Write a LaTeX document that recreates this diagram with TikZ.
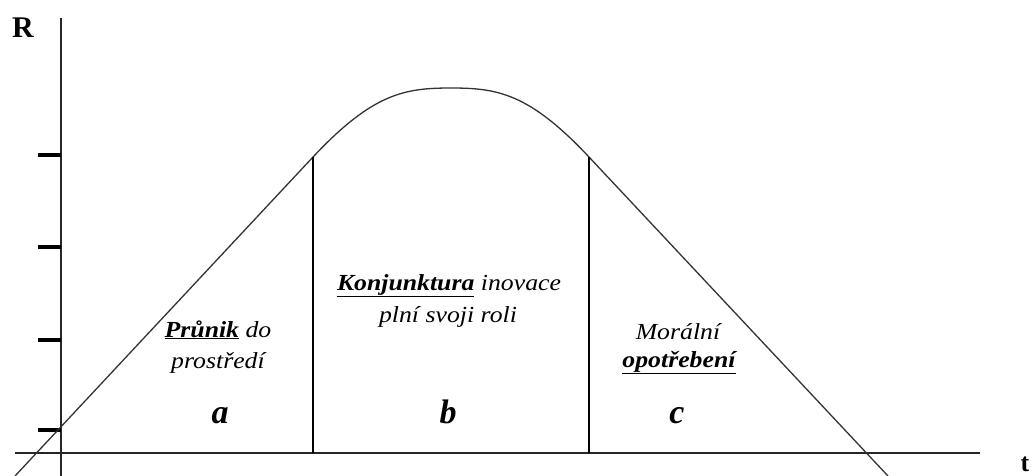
\documentclass[tikz,border=0pt]{standalone}
\usepackage{fontspec}
\setmainfont{Liberation Serif}
\newfontfamily\lblfont[FakeStretch=1.12]{Liberation Serif}
\begin{document}
\begin{tikzpicture}[x=1pt,y=-1pt,
  axis/.style={line width=2pt,draw=black!85},
  tickmark/.style={line width=3.5pt,draw=black},
  curveline/.style={line width=1.3pt,draw=black!80},
  divider/.style={line width=1.3pt,draw=black},
  lbl/.style={anchor=base,inner sep=0pt,font=\lblfont\itshape\fontsize{23}{27}\selectfont},
  letter/.style={anchor=base,inner sep=0pt,font=\bfseries\itshape\fontsize{34}{38}\selectfont},
  axlbl/.style={anchor=base,inner sep=0pt,font=\bfseries\fontsize{30}{34}\selectfont}]
\useasboundingbox (0,0) rectangle (1033,475);
% axes
\coordinate (ytop) at (61,18);
\coordinate (ybot) at (61,476);
\coordinate (xl) at (15,453);
\coordinate (xr) at (980,453);
\draw[axis] (ybot) -- (ytop);
\draw[axis] (xl) -- (xr);
% ticks
\foreach \yy [count=\i] in {155,247,340,430}{
  \coordinate (t\i a) at (38,\yy);
  \coordinate (t\i b) at (61,\yy);
  \draw[tickmark] (t\i a) -- (t\i b);
}
% curve
\coordinate (c0) at (15,476);
\coordinate (c1) at (313,157);
\coordinate (peak) at (451,88);
\coordinate (c2) at (589,157);
\coordinate (c3) at (888,476);
\draw[curveline] (c0) -- (c1) .. controls (373,93) and (405,88) .. (peak)
  .. controls (497,88) and (529,93) .. (c2) -- (c3);
% dividers
\coordinate (d1) at (313,453);
\coordinate (d2) at (589,453);
\draw[divider] (c1) -- (d1);
\draw[divider] (c2) -- (d2);
% axis labels
\node[axlbl] (R) at (23,37) {R};
\node[axlbl,font=\bfseries\fontsize{26}{30}\selectfont] (T) at (1025,471) {t};
% region a
\node[lbl] (a1) at (218,337) {\textbf{\underline{Průnik}} do};
\node[lbl] (a2) at (218,368) {prostředí};
\node[letter] (a) at (220,423) {a};
% region b
\node[lbl] (b1) at (449,290) {\textbf{\underline{Konjunktura}} inovace};
\node[lbl] (b2) at (448,322) {plní svoji roli};
\node[letter] (b) at (448,423) {b};
% region c
\node[lbl] (m1) at (678,339) {Morální};
\node[lbl] (m2) at (679,367) {\textbf{\underline{opotřebení}}};
\node[letter] (c) at (677,423) {c};
\end{tikzpicture}
\end{document}
